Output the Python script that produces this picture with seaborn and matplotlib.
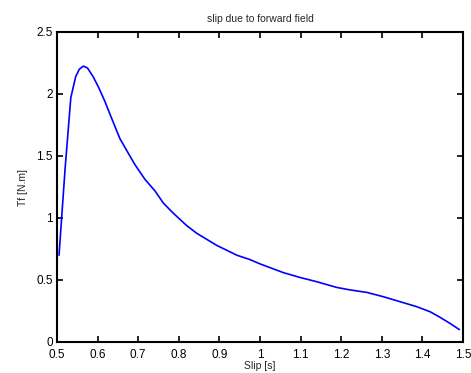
import pandas as pd
import numpy as np
import matplotlib
matplotlib.use("Agg")
import matplotlib.pyplot as plt
import seaborn as sns

sns.set_style("ticks")
plt.rcParams["font.family"] = ["Liberation Sans", "DejaVu Sans"]

# curve
slip = [0.505, 0.52, 0.534, 0.546, 0.555, 0.565, 0.575, 0.589, 0.603, 0.618,
        0.635, 0.655, 0.676, 0.692, 0.717, 0.741, 0.762, 0.786, 0.819, 0.844,
        0.893, 0.943, 0.975, 1.0, 1.057, 1.099, 1.140, 1.189, 1.222, 1.263,
        1.304, 1.345, 1.386, 1.419, 1.443, 1.468, 1.491]
torque = [0.70, 1.40, 1.97, 2.14, 2.20, 2.225, 2.21, 2.14, 2.05, 1.94,
          1.80, 1.64, 1.52, 1.43, 1.31, 1.22, 1.12, 1.04, 0.94, 0.877,
          0.78, 0.70, 0.665, 0.63, 0.56, 0.52, 0.486, 0.44, 0.42, 0.40,
          0.365, 0.325, 0.285, 0.244, 0.20, 0.15, 0.10]

df = pd.DataFrame({"slip": slip, "torque": torque})

fig = plt.figure(figsize=(4.71, 3.73), dpi=100)
ax = fig.add_axes([57 / 471, 31 / 373, 406 / 471, 310 / 373])

sns.lineplot(data=df, x="slip", y="torque", ax=ax, color="#0000ff", linewidth=1.2)

ax.set_xlim(0.5, 1.5)
ax.set_ylim(0, 2.5)
ax.set_xticks(np.arange(0.5, 1.51, 0.1))
ax.set_xticklabels(["0.5", "0.6", "0.7", "0.8", "0.9", "1", "1.1", "1.2", "1.3", "1.4", "1.5"])
ax.set_yticks([0, 0.5, 1, 1.5, 2, 2.5])
ax.set_yticklabels(["0", "0.5", "1", "1.5", "2", "2.5"])

for s in ax.spines.values():
    s.set_visible(True)
    s.set_linewidth(1.5)
    s.set_color("black")

ax.tick_params(direction="in", length=4, width=1.2, labelsize=8.5,
               top=True, right=True, colors="black")
ax.tick_params(axis="x", pad=5)
ax.tick_params(axis="y", pad=3)

ax.set_title("slip due to forward field", fontsize=7.5, pad=7)
ax.set_xlabel("Slip [s]", fontsize=7.5, labelpad=0)
ax.set_ylabel("Tf [N.m]", fontsize=7.5, labelpad=6)

fig.savefig("out.png", dpi=100, facecolor="white")
